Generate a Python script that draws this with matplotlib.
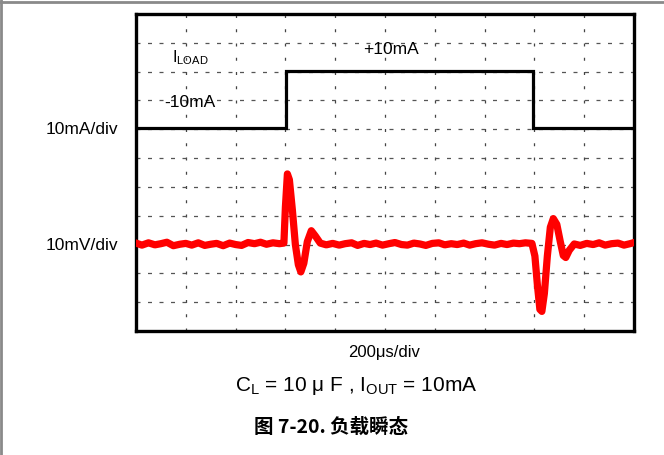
"""Load-transient scope capture (figure 7-20) redrawn with matplotlib."""

import matplotlib

matplotlib.use("Agg")
import matplotlib.pyplot as plt
from matplotlib.lines import Line2D

# ---------- Data (scope divisions: x 0..10, y 0..11 from bottom) -------------

N_XDIV = 10
N_YDIV = 11

# ILOAD trace (black): -10mA -> +10mA -> -10mA
iload_t = [0.0, 3.02, 3.02, 7.98, 7.98, 10.0]
iload_v = [7.05, 7.05, 9.03, 9.03, 7.05, 7.05]

# VOUT trace (red), read point by point off the capture
vout_t = [
    0.00, 0.12, 0.25, 0.38, 0.50, 0.62, 0.75, 0.88, 1.00, 1.12,
    1.25, 1.38, 1.50, 1.62, 1.75, 1.88, 2.00, 2.12, 2.25, 2.38,
    2.50, 2.62, 2.75, 2.88, 2.97, 3.00, 3.04, 3.08, 3.14, 3.20,
    3.26, 3.31, 3.37, 3.44, 3.52, 3.60, 3.70, 3.82, 3.95, 4.08,
    4.20, 4.33, 4.45, 4.58, 4.70, 4.82, 4.95, 5.08, 5.20, 5.33,
    5.45, 5.58, 5.70, 5.82, 5.95, 6.08, 6.20, 6.33, 6.45, 6.58,
    6.70, 6.82, 6.95, 7.08, 7.20, 7.33, 7.45, 7.58, 7.70, 7.82,
    7.95, 8.01, 8.06, 8.11, 8.15, 8.20, 8.26, 8.32, 8.38, 8.45,
    8.52, 8.58, 8.63, 8.70, 8.80, 8.92, 9.05, 9.18, 9.30, 9.42,
    9.55, 9.68, 9.80, 9.92, 10.00,
]
vout_v = [
    3.05, 2.98, 3.06, 2.99, 3.03, 3.08, 2.96, 3.01, 3.04, 2.98,
    3.06, 2.97, 3.01, 3.04, 2.96, 3.05, 3.00, 2.97, 3.07, 3.03,
    3.08, 3.01, 3.06, 3.03, 3.05, 4.30, 5.45, 5.25, 4.20, 3.00,
    2.30, 2.05, 2.35, 3.10, 3.48, 3.30, 3.05, 2.99, 3.04, 2.98,
    3.03, 3.06, 2.97, 3.04, 3.00, 3.05, 2.98, 3.03, 3.07, 3.00,
    2.98, 3.05, 3.02, 2.97, 3.04, 3.06, 2.99, 3.03, 3.00, 3.05,
    2.98, 3.03, 3.06, 3.01, 2.98, 3.04, 3.00, 3.05, 3.03, 3.06,
    3.04, 2.60, 1.60, 0.75, 0.68, 1.30, 2.60, 3.60, 3.90, 3.70,
    3.10, 2.62, 2.55, 2.80, 3.02, 2.97, 3.04, 3.00, 3.06, 2.98,
    3.03, 3.05, 2.98, 3.03, 3.07,
]

# Annotation texts
label_iload = r"I$_\mathrm{LOAD}$"
label_hi = "+10mA"
label_lo = "-10mA"
scale_i = "10mA/div"
scale_v = "10mV/div"
scale_t = "200\u03bcs/div"
condition = "C$_\\mathrm{L}$ = 10 \u03bc F , I$_\\mathrm{OUT}$ = 10mA"
caption = "图 7-20. 负载瞬态"

# ---------- Figure -----------------------------------------------------------

W, H = 664, 455
plt.rcParams["font.family"] = ["Liberation Sans", "DejaVu Sans"]
plt.rcParams["mathtext.fontset"] = "custom"
plt.rcParams["mathtext.rm"] = "Liberation Sans"
plt.rcParams["mathtext.it"] = "Liberation Sans:italic"
plt.rcParams["mathtext.bf"] = "Liberation Sans:bold"
fig = plt.figure(figsize=(W / 100, H / 100), dpi=100)


def fx(px):
    return px / W


def fy(py):
    return 1 - py / H


# outer gray frame (top and left edges)
fig.add_artist(Line2D([0, 1], [fy(2), fy(2)], color="#8a8a8a", lw=2))
fig.add_artist(Line2D([fx(1), fx(1)], [0, 1], color="#8a8a8a", lw=2))

ax = fig.add_axes([fx(136), fy(331), fx(634) - fx(136), fy(14) - fy(331)])
ax.set_xlim(0, N_XDIV)
ax.set_ylim(0, N_YDIV)
ax.set_xticks([])
ax.set_yticks([])
for s in ax.spines.values():
    s.set_linewidth(2.4)
    s.set_color("black")

# dashed graticule
for k in range(1, N_XDIV):
    ax.axvline(k, color="#444444", lw=0.9, dashes=(2.4, 9.0), zorder=1)
for k in range(1, N_YDIV):
    ax.axhline(k, color="#555555", lw=0.9, dashes=(3.2, 6.0), zorder=1)

ax.plot(iload_t, iload_v, color="black", lw=2.3, zorder=3, solid_joinstyle="miter")
ax.plot(vout_t, vout_v, color="#ff0000", lw=5.2, zorder=3, solid_joinstyle="round")

# in-plot labels
ax.text(1.08, 9.50, label_iload, fontsize=11.5, ha="center", va="center")
ax.text(5.12, 9.76, label_hi, fontsize=12.5, ha="center", va="center")
ax.text(1.08, 7.92, label_lo, fontsize=12.5, ha="center", va="center")

# vertical scale labels left of the screen
fig.text(fx(118), fy(130), scale_i, fontsize=12.5, ha="right", va="center")
fig.text(fx(118), fy(246), scale_v, fontsize=12.5, ha="right", va="center")

# below the screen
fig.text(fx(384), fy(352), scale_t, fontsize=12, ha="center", va="center")
fig.text(fx(356), fy(386), condition, fontsize=15, ha="center", va="center")
fig.text(fx(331), fy(427), caption, fontsize=14, ha="center", va="center",
         fontweight="bold", family=["Noto Sans CJK SC", "DejaVu Sans"])

fig.savefig("out.png", dpi=100)
